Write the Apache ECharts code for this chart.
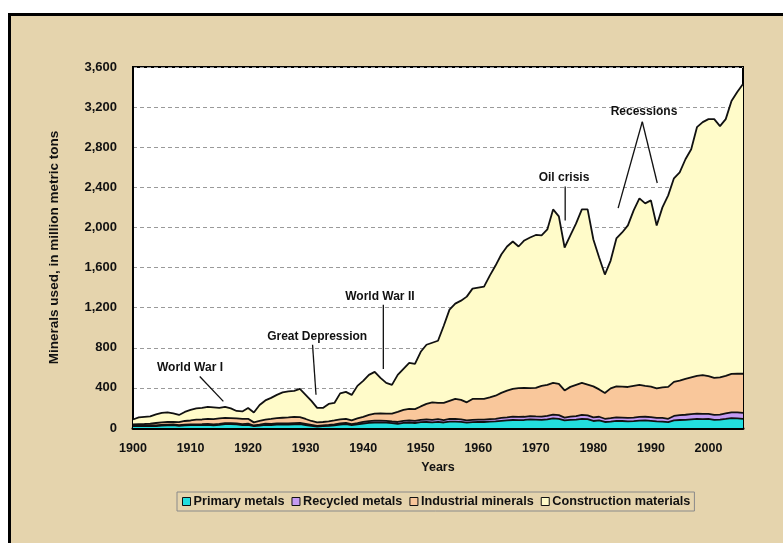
<!DOCTYPE html>
<html>
<head>
<meta charset="utf-8">
<script src="https://cdn.jsdelivr.net/npm/echarts@6/dist/echarts.min.js"></script>
<style>
html,body{margin:0;padding:0;background:#fff;}
#c{width:783px;height:543px;}
</style>
</head>
<body>
<div id="c"></div>
<script>
const years = [];
for (let y = 1900; y <= 2006; y++) years.push(String(y));

const primaryMetals = [18,18,20,22,20,25,27,28,22,27,28,28,30,32,27,32,38,38,36,28,32,18,24,32,30,33,35,33,36,38,30,22,14,18,22,27,33,38,28,36,45,52,55,56,54,48,42,52,55,50,58,60,56,62,55,64,64,62,54,58,60,60,64,66,72,76,80,78,80,86,84,82,86,96,92,76,82,84,90,88,70,76,60,64,72,70,66,68,74,76,72,66,64,58,76,80,82,86,90,88,90,82,84,90,98,96,92];

const recycledMetals = [5,5,5,6,6,7,7,7,6,7,8,8,8,9,8,9,10,11,11,10,11,7,9,11,11,12,12,12,13,13,11,9,7,8,9,10,12,13,11,13,15,17,18,18,18,17,18,20,22,20,24,25,25,26,24,26,26,25,22,23,24,24,24,25,28,30,33,32,32,33,32,32,34,38,36,28,32,34,40,38,36,36,32,34,34,34,34,36,37,36,36,35,36,34,44,48,50,52,53,52,50,48,50,55,58,60,58];

const industrialMinerals = [12,15,15,15,24,24,26,27,30,36,39,47,47,49,53,54,52,49,48,52,49,31,37,40,49,53,55,60,61,57,49,39,35,34,35,38,40,41,37,46,52,61,70,71,71,78,100,108,113,118,133,155,174,162,171,180,200,193,180,209,206,206,217,231,250,266,277,288,288,279,284,306,310,315,312,271,296,312,319,306,309,273,257,297,309,308,309,316,318,308,304,294,305,318,340,344,358,367,377,388,378,370,371,375,384,385,391];

const constructionMaterials = [50,67,70,72,85,94,95,83,72,90,105,112,115,120,117,105,110,97,75,75,108,99,160,192,210,232,253,260,260,282,240,200,144,140,174,175,260,268,254,325,358,400,417,355,307,287,370,410,460,452,545,590,595,620,770,910,950,990,1054,1100,1110,1120,1215,1298,1380,1438,1470,1412,1470,1502,1525,1500,1550,1731,1670,1425,1510,1610,1731,1748,1465,1315,1181,1275,1475,1538,1611,1750,1861,1820,1858,1625,1795,1910,2030,2078,2190,2275,2480,2522,2562,2580,2505,2560,2720,2809,2889];

const seriesNames = ['Primary metals','Recycled metals','Industrial minerals','Construction materials'];
const seriesColors = ['#22DEDE','#C49BF2','#F9C79B','#FFFBC9'];
const yTicks = [0,400,800,1200,1600,2000,2400,2800,3200,3600];

// annotations: text position and leader lines in [year, value]
const annotations = [
  {text:'World War I', at:[1909.9,604], lines:[[[1911.6,514],[1915.7,265]]]},
  {text:'Great Depression', at:[1932.0,913], lines:[[[1931.2,830],[1931.8,332]]]},
  {text:'World War II', at:[1942.9,1306], lines:[[[1943.5,1229],[1943.5,588]]]},
  {text:'Oil crisis', at:[1974.9,2493], lines:[[[1975.1,2409],[1975.1,2070]]]},
  {text:'Recessions', at:[1988.8,3154], lines:[[[1988.5,3054],[1984.3,2193]],[[1988.5,3054],[1991.1,2443]]]}
];

const chart = echarts.init(document.getElementById('c'), null, {renderer:'canvas'});
const dataSets = [primaryMetals, recycledMetals, industrialMinerals, constructionMaterials];
const FONT = 'Liberation Sans, Arial, sans-serif';

const option = {
  animation:false,
  backgroundColor:'#ffffff',
  grid:{left:133, top:67, right:40, bottom:115, show:true, backgroundColor:'#ffffff', borderColor:'#000', borderWidth:2},
  legend:{
    data:seriesNames,
    left:177, top:492,
    icon:'rect', itemWidth:8, itemHeight:8, itemGap:7,
    padding:[3,4,3,5],
    borderColor:'#8a8a8a', borderWidth:1,
    itemStyle:{borderColor:'#111', borderWidth:1},
    textStyle:{fontFamily:FONT, fontWeight:'bold', fontSize:12.7, color:'#111', padding:[0,0,0,-2]}
  },
  xAxis:{
    type:'category', data:years, boundaryGap:false,
    axisLine:{lineStyle:{color:'#000', width:3}},
    axisTick:{show:false},
    axisLabel:{interval:(i,v)=>Number(v)%10===0, fontFamily:FONT, fontWeight:'bold', fontSize:12.5, color:'#111', margin:14},
    name:'Years', nameLocation:'middle', nameGap:33,
    nameTextStyle:{fontFamily:FONT, fontWeight:'bold', fontSize:12.5, color:'#111'}
  },
  yAxis:{
    type:'value', min:0, max:3600, interval:400,
    axisLine:{show:true, lineStyle:{color:'#000', width:2}},
    axisTick:{show:false},
    axisLabel:{formatter:v=>v.toLocaleString('en-US'), fontFamily:FONT, fontWeight:'bold', fontSize:13, color:'#111', margin:16},
    splitLine:{lineStyle:{color:'#9a9a9a', type:[4,3], width:1}},
    name:'Minerals used, in million metric tons', nameLocation:'middle', nameGap:72,
    nameTextStyle:{fontFamily:FONT, fontWeight:'bold', fontSize:13.5, color:'#111'}
  },
  series: seriesNames.map((n,i)=>({
    name:n, type:'line', stack:'total', data:dataSets[i], symbol:'none',
    lineStyle:{color:'#111', width:1.8},
    areaStyle:{color:seriesColors[i], opacity:1},
    itemStyle:{color:seriesColors[i], borderColor:'#111', borderWidth:1}
  }))
};
chart.setOption(option);

function px(yr, v){
  const i0 = Math.floor(yr-1900);
  const f = (yr-1900) - i0;
  const p0 = chart.convertToPixel({gridIndex:0}, [i0, v]);
  const p1 = chart.convertToPixel({gridIndex:0}, [i0+1, v]);
  return [p0[0] + (p1[0]-p0[0])*f, p0[1]];
}

const graphics = [
  {type:'rect', z:-10, silent:true, shape:{x:9.5, y:14.5, width:790, height:540},
   style:{fill:'#E5D4AD', stroke:'#000', lineWidth:3}}
];
annotations.forEach(a=>{
  const p = px(a.at[0], a.at[1]);
  graphics.push({type:'text', z:100, x:p[0], y:p[1], style:{text:a.text, fontFamily:FONT, fontWeight:'bold', fontSize:12, fill:'#111', align:'center', verticalAlign:'middle'}});
  a.lines.forEach(l=>{
    const s = px(l[0][0], l[0][1]), e = px(l[1][0], l[1][1]);
    graphics.push({type:'line', z:100, shape:{x1:s[0], y1:s[1], x2:e[0], y2:e[1]}, style:{stroke:'#111', lineWidth:1.3}});
  });
});
chart.setOption({graphic:graphics});
</script>
</body>
</html>
